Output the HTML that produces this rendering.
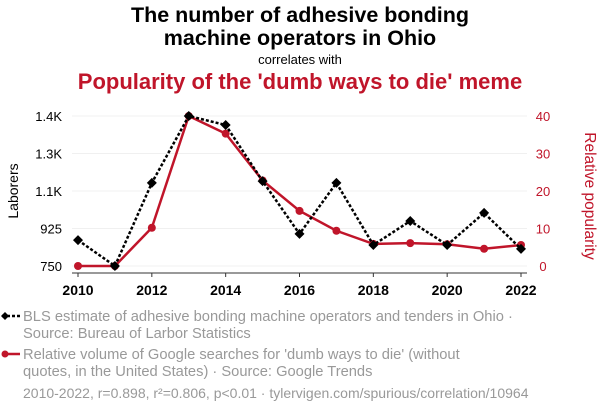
<!DOCTYPE html>
<html><head><meta charset="utf-8"><style>
body{margin:0;width:600px;height:414px;background:#fff;font-family:"Liberation Sans",sans-serif;overflow:hidden}
svg text{font-family:"Liberation Sans",sans-serif}
</style></head><body>
<svg id="c" width="600" height="414">
<text x="300" y="22" text-anchor="middle" font-size="21.5" font-weight="bold" fill="#000">The number of adhesive bonding</text>
<text x="300" y="45" text-anchor="middle" font-size="21.5" font-weight="bold" fill="#000">machine operators in Ohio</text>
<text x="300" y="64" text-anchor="middle" font-size="13" fill="#000">correlates with</text>
<text x="300" y="89" text-anchor="middle" font-size="22" font-weight="bold" fill="#c0152a">Popularity of the 'dumb ways to die' meme</text>
<g id="grid"></g><g id="axes"></g><g id="marks"></g>
<text transform="translate(18,191) rotate(-90)" text-anchor="middle" font-size="14" fill="#000">Laborers</text>
<text transform="translate(585,196) rotate(90)" text-anchor="middle" font-size="15.5" fill="#c0152a">Relative popularity</text>
<g>
<line x1="2" y1="316" x2="20" y2="316" stroke="#000" stroke-width="2.5" stroke-dasharray="3,2"/>
<path d="M1,316 L5,312 L9,316 L5,320Z" fill="#000"/>
<text x="23" y="321" font-size="14.7" fill="#999">BLS estimate of adhesive bonding machine operators and tenders in Ohio ·</text>
<text x="23" y="338" font-size="14.7" fill="#999">Source: Bureau of Larbor Statistics</text></g>
<g>
<line x1="2" y1="354" x2="20" y2="354" stroke="#c0152a" stroke-width="2.5"/>
<circle cx="5" cy="354" r="3.5" fill="#c0152a"/>
<text x="23" y="359" font-size="14.7" fill="#999">Relative volume of Google searches for 'dumb ways to die' (without</text>
<text x="23" y="376" font-size="14.7" fill="#999">quotes, in the United States) · Source: Google Trends</text></g>
<text x="23" y="398" font-size="14" fill="#999">2010-2022, r=0.898, r²=0.806, p&lt;0.01 · tylervigen.com/spurious/correlation/10964</text>
</svg>
<script>
const years=[2010,2011,2012,2013,2014,2015,2016,2017,2018,2019,2020,2021,2022];
const laborers=[862,750,1110,1400,1361,1118,889,1110,841,945,841,980,824];
const popularity=[0,0,10.2,40,35.3,22.8,14.7,9.4,5.9,6.1,5.8,4.6,5.6];
const leftTicks=[750,912.5,1075,1237.5,1400];
const leftLabels=["750","925","1.1K","1.3K","1.4K"];
const rightTicks=[0,10,20,30,40];
const xTicks=[2010,2012,2014,2016,2018,2020,2022];
const NS="http://www.w3.org/2000/svg";
const X=v=>78+(v-2010)/12*443;
const YL=v=>266-(v-750)/650*150;
const YR=v=>266-v/40*150;
function mk(t,a,p){const e=document.createElementNS(NS,t);for(const k in a)e.setAttribute(k,a[k]);p.appendChild(e);return e;}
const g=document.getElementById('grid'),ax=document.getElementById('axes'),m=document.getElementById('marks');
leftTicks.forEach((v,i)=>{
 const l=mk('line',{x1:72,x2:527,y1:YL(v),y2:YL(v),stroke:'#f0f0f0','stroke-width':1},g);
 
 
 const t=mk('text',{x:62,y:YL(v)+5,'text-anchor':'end','font-size':13,fill:'#000'},ax);t.textContent=leftLabels[i];
 
 
});
rightTicks.forEach(v=>{
 const t=mk('text',{x:543,y:YR(v)+5,'text-anchor':'middle','font-size':13,fill:'#c0152a'},ax);t.textContent=v;
 
 
});
const base=mk('line',{x1:72,x2:527,y1:273,y2:273,stroke:'#333','stroke-width':1},ax);


xTicks.forEach(v=>{
 mk('line',{x1:X(v),x2:X(v),y1:273,y2:277,stroke:'#333'},ax);
 const t=mk('text',{x:X(v),y:295,'text-anchor':'middle','font-size':14,'font-weight':'bold',fill:'#000'},ax);t.textContent=v;
 
 
});
const rp=mk('polyline',{points:years.map((y,i)=>X(y)+','+YR(popularity[i])).join(' '),fill:'none',stroke:'#c0152a','stroke-width':2.5},m);


years.forEach((y,i)=>{const c=mk('circle',{cx:X(y),cy:YR(popularity[i]),r:4,fill:'#c0152a'},m);
 
 });
const lp=mk('polyline',{points:years.map((y,i)=>X(y)+','+YL(laborers[i])).join(' '),fill:'none',stroke:'#000','stroke-width':2.5,'stroke-dasharray':'3,2'},m);


years.forEach((y,i)=>{const cx=X(y),cy=YL(laborers[i]);
 const d=mk('path',{d:`M${cx-5},${cy} L${cx},${cy-5} L${cx+5},${cy} L${cx},${cy+5}Z`,fill:'#000'},m);
 
 });
</script>
</body></html>
